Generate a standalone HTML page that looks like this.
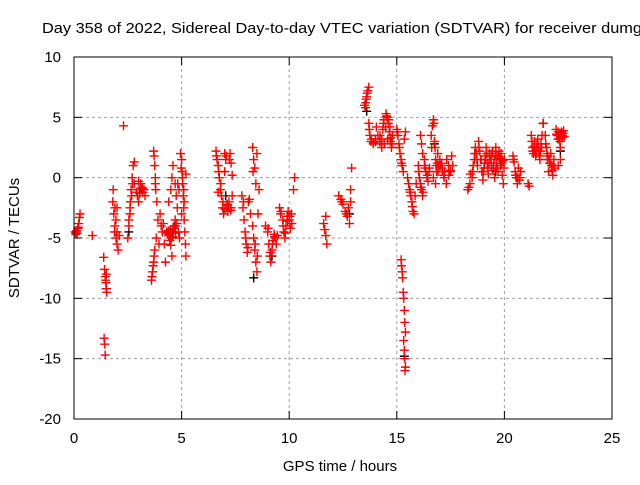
<!DOCTYPE html>
<html><head><meta charset="utf-8"><style>
body{margin:0;background:#fff;width:640px;height:480px;overflow:hidden}
svg{font-family:"Liberation Sans",sans-serif;font-size:14px}
</style></head><body>
<svg id="chart" width="640" height="480" xmlns="http://www.w3.org/2000/svg">
<text x="42" y="33" font-size="15" textLength="600" lengthAdjust="spacingAndGlyphs">Day 358 of 2022, Sidereal Day-to-day VTEC variation (SDTVAR) for receiver dumg</text>
<text transform="translate(19,238) rotate(-90)" text-anchor="middle" font-size="15">SDTVAR / TECUs</text>
<text x="340" y="471" text-anchor="middle" font-size="15">GPS time / hours</text>
<g id="grid"></g>
<g id="ticks"></g>
<g id="pts"></g>
<rect x="74" y="57" width="538" height="362" fill="none" stroke="#000" stroke-width="1"/>
</svg>
<script>
const xTicks=[0,5,10,15,20,25];
const yTicks=[10,5,0,-5,-10,-15,-20];
const times=[0.05,0.08,0.12,0.18,0.22,0.25,0.28,0.15,0.85,
1.38,1.42,1.45,1.48,1.5,1.52,1.4,1.43,1.45,1.5,
1.8,1.85,1.9,1.95,2.0,1.82,1.88,2.05,2.0,1.95,2.1,2.3,
2.5,2.55,2.6,2.62,2.65,2.7,2.75,2.8,2.55,2.68,2.8,
2.9,2.95,3.0,3.05,3.1,3.15,3.2,3.25,3.0,3.3,
3.6,3.62,3.65,3.7,3.72,3.75,3.7,3.72,3.75,3.78,3.8,3.85,3.82,3.9,3.95,
4.0,4.05,4.1,4.15,4.2,4.25,4.3,
4.35,4.4,4.45,4.5,4.55,4.6,4.65,4.7,4.4,4.5,4.55,4.6,4.7,4.75,4.8,4.85,4.9,
4.95,5.0,5.02,5.05,5.08,5.1,5.12,5.15,5.18,5.2,5.0,5.1,5.2,
6.6,6.65,6.7,6.75,6.8,6.85,6.9,6.95,7.0,7.05,7.1,7.15,7.2,6.7,7.0,
7.25,7.3,7.35,7.3,7.35,
7.8,7.85,7.9,7.95,8.0,8.05,8.1,8.15,8.2,
8.3,8.35,8.4,8.45,8.3,8.35,8.4,8.45,8.5,8.55,8.6,8.5,
8.9,9.0,9.05,9.1,9.15,9.2,9.25,9.3,9.35,9.4,9.45,
9.55,9.6,9.7,9.75,9.8,9.85,9.9,9.95,10.0,10.05,10.1,10.2,10.25,
11.6,11.65,11.7,11.75,11.7,
12.3,12.4,12.5,12.6,12.7,12.75,12.8,12.85,12.9,12.85,
13.5,13.55,13.6,13.65,13.7,13.55,
13.7,13.75,13.8,13.9,14.0,14.05,
14.2,14.3,14.35,14.4,14.5,14.55,14.6,14.65,14.7,14.75,14.8,14.3,
15.0,15.05,15.1,15.15,15.2,15.25,15.3,15.35,15.4,
15.2,15.22,15.25,15.27,15.3,15.32,15.35,15.37,15.4,15.32,15.35,15.37,15.4,15.38,
15.5,15.55,15.6,15.65,15.7,15.75,15.8,15.85,15.9,
16.0,16.05,16.1,16.15,16.2,16.1,16.15,16.2,16.3,16.35,16.4,16.45,16.5,
16.6,16.65,16.7,16.75,16.8,16.85,16.9,16.95,16.7,16.8,
17.0,17.1,17.2,17.3,17.4,17.5,17.55,17.6,
18.3,18.35,18.4,18.5,18.55,18.6,18.65,18.7,18.75,
18.8,18.85,18.9,18.95,19.0,19.05,19.1,19.15,19.2,19.25,
19.3,19.35,19.4,19.45,19.5,19.55,19.6,19.65,19.7,19.75,19.8,19.85,19.9,19.95,20.0,
20.4,20.45,20.5,20.55,20.6,20.65,20.7,20.75,
21.1,21.15,
21.25,21.3,21.35,21.4,21.45,21.5,21.55,21.6,21.65,21.7,21.75,21.8,
21.9,21.95,22.0,22.05,22.1,22.15,22.2,22.25,22.3,22.35,
22.4,22.45,22.5,22.55,22.6,22.65,22.7,22.75,22.5,22.6,
0.1,0.2,1.47,1.9,2.0,2.6,2.72,3.05,3.18,3.68,3.78,4.38,4.42,4.48,4.52,4.58,4.62,4.68,4.72,4.78,4.82,4.88,4.98,5.04,5.12,
6.62,6.72,6.82,6.92,7.02,7.08,7.12,7.18,7.22,7.28,7.88,7.98,8.08,8.32,8.42,8.52,9.02,9.12,9.22,9.32,9.62,9.72,9.82,9.92,10.02,10.12,
12.45,12.65,13.58,13.62,13.72,13.82,13.92,14.02,14.12,14.22,14.28,14.38,14.42,14.48,14.52,14.58,14.62,14.68,14.72,14.78,15.02,15.12,15.22,
15.62,15.72,16.02,16.12,16.22,16.28,16.32,16.42,16.52,16.62,16.72,16.78,16.82,16.88,16.92,17.02,17.08,17.12,17.18,17.22,17.32,17.42,17.48,
18.42,18.52,18.62,18.72,18.82,18.92,19.02,19.08,19.12,19.18,19.22,19.28,19.32,19.38,19.42,19.48,19.52,19.58,19.62,19.68,19.72,19.78,19.82,19.88,19.92,19.98,
20.42,20.52,20.62,20.72,21.28,21.32,21.38,21.42,21.48,21.52,21.58,21.62,21.68,21.72,21.92,21.98,22.02,22.08,22.12,22.18,22.22,22.28,22.42,22.48,22.52,22.58,22.62,22.68,22.72,22.78];
const values=[-4.5,-4.7,-4.4,-4.2,-3.8,-3.3,-3.0,-4.6,-4.8,
-6.6,-7.6,-8.2,-8.7,-9.2,-9.5,-13.3,-13.8,-14.7,-8.0,
-2,-3,-4,-5,-5.5,-1,-4.5,-6,-2.5,-3.5,-4.8,4.3,
-5,-4,-3,-2,-1,0,1,1.3,-3.5,-1.5,-0.5,
-1.2,-1.5,-2,-1,-0.5,-0.8,-1.2,-1,-0.3,-1.5,
-8.5,-8.2,-7.8,-7,-6.5,-6,2.2,1.8,1,0,-1,-2,-5,-3.5,-5.5,
-3,-4,-4.5,-3.8,-5.5,-7,-4.5,
-4.6,-4.8,-5.2,-5.6,-6.5,-4.2,-4,-3.5,-2,-1,0,1,-0.5,-1.5,-2.5,-4.5,-5,
2,1.5,0.5,-0.5,-1.5,-2.5,-3.5,-4.5,-5.5,-6.5,-3,-1,0.3,
2.2,1.5,1,0,-1,-1.5,-2.5,-3,2,1.5,-2.3,-2.8,-2,-1.2,0.5,
2,1.2,0.2,-2.5,-1.5,
-1.5,-2.5,-3.5,-4.5,-5.5,-6.2,-2,-1.8,-3,
2.5,1.5,0.8,-0.5,-4,-5,-6,-7,-7.8,-3,-1,2,
-4,-4.5,-5.5,-6.5,-7,-6,-5.2,-4.7,-5,-5.5,-4.8,
-2.5,-3,-3.5,-4.5,-5,-4,-3.2,-2.8,-3.5,-4.2,-3,-1,0,
-3.8,-4.3,-4.8,-5.5,-3.2,
-1.5,-1.8,-2.2,-2.8,-3.2,-2.5,-3.8,-1,0.8,-2,
6,6.2,6.7,7.2,7.5,5.8,
4.5,3.5,3,2.8,3.2,4.2,
3,3.2,4,4.8,5.3,5,4.5,3.8,3,2.5,3.5,2.5,
4,3.5,2.8,2,1.5,1,0.5,3.2,3.8,
-6.8,-7.3,-7.8,-8.3,-9.5,-10,-11,-12,-12.8,-13.5,-14.3,-15,-15.7,-16,
0,-0.5,-1,-1.5,-2,-2.8,-3,-1.5,-0.5,
1,0,-0.5,-1,-1.5,3.5,2.8,2,1,0.5,0,-0.3,0.5,
3.5,4.3,4.8,3,1.5,0.5,2,1,0,-0.5,
1.5,0.8,0,-0.5,1,0.5,1.8,1,
-1,-0.8,-0.5,0,1,1.5,2.5,2,1,
3,2.2,1.5,0.5,-0.2,0.8,1.8,2.5,1.2,0.3,
2,1.5,0.8,2.2,1,0,2.5,1.8,0.5,2.2,1.2,2,0.2,-0.5,1.5,
1.8,1.3,0.5,0,-0.5,0.8,-0.2,0.5,
-0.5,-0.7,
3.5,2.5,2,3,1.8,2.5,3.2,2.2,1.5,2.8,3.5,4.5,
3.5,2.5,1.5,0.5,1.2,2,1,0.2,1.5,0.8,
4,3.5,3.8,3.2,2.5,3.8,3.5,3.9,1,1.5,
-4.6,-4.1,-8.5,-2.5,-4.5,-2.5,-0.5,-1.3,-0.9,-7.3,-0.5,-4.4,-4.7,-4.3,-5,-4.9,-4.5,-4.2,-4.6,-3.8,-0.5,-1,0.8,0,-2,
1.8,0.5,-0.5,-2,-2.6,1.8,-2.2,-2.5,1.5,-2.7,-2,-5,-5.8,0.5,-5.5,-6.5,-4.2,-6.2,-5.5,-4.9,-2.8,-4,-4.6,-3.6,-3.2,-3.8,
-2,-3,6.5,7,4,3.2,2.9,3,3.5,3.5,2.8,4.5,2.8,4.2,5.1,3.2,4.8,4.2,3.3,2.8,3.8,2.5,1.2,
-1.2,-2.4,0.5,-0.8,-1.2,1.5,0.8,0.2,0.8,2.5,4.5,2.5,1,1.2,0.5,1,1.2,0.5,0.2,0.5,1.5,0.2,0.6,
0.3,0.5,2,1.5,2.5,1.5,0.5,1.2,1.5,2,0.8,1.2,1.8,1.5,2,0.6,1.5,1.8,1.2,0.8,1.8,1.6,1,1.2,1.4,0.8,
1.5,0.2,0,0,3,2.2,2.6,2.2,2,2.8,2.5,1.8,2.2,2.5,2.8,2,1.8,1.5,1.2,1,0.6,1,3.6,3.2,3.5,3,3.6,3.3,3.7,3.4];
const blackTimes=[1.5,2.55,3.1,4.7,7.05,8.35,9.2,12.8,13.6,15.35,16.75,19.6,21.8,22.6];
const blackValues=[-9.2,-4.5,-1,-4,-1.5,-8.3,-6.5,-3,5.5,-14.8,2.8,0.5,4.5,2.2];
const NS="http://www.w3.org/2000/svg";
const X0=74,X1=612,Y0=419,Y1=57;
function xs(t){return X0+(t-0)/(25-0)*(X1-X0);}
function ys(v){return Y0-(v-(-20))/(10-(-20))*(Y0-Y1);}
const grid=document.getElementById('grid'),ticks=document.getElementById('ticks'),pts=document.getElementById('pts');
function mk(tag,attrs,parent){const e=document.createElementNS(NS,tag);for(const k in attrs)e.setAttribute(k,attrs[k]);parent.appendChild(e);return e;}
xTicks.forEach(t=>{const x=xs(t);
 if(t>0&&t<25){const l=mk('line',{x1:x,x2:x,y1:Y1,y2:Y0,stroke:'#a0a0a0','stroke-dasharray':'3,3'},grid);
 
 }
 mk('line',{x1:x,x2:x,y1:Y0,y2:Y0-8,stroke:'#000'},ticks);
 mk('line',{x1:x,x2:x,y1:Y1,y2:Y1+8,stroke:'#000'},ticks);
 const tx=mk('text',{x:x,y:Y0+24,'text-anchor':'middle','font-size':'15'},ticks);tx.textContent=t;
 
 });
yTicks.forEach(v=>{const y=ys(v);
 if(v>-20&&v<10){const l=mk('line',{x1:X0,x2:X1,y1:y,y2:y,stroke:'#a0a0a0','stroke-dasharray':'3,3'},grid);
 
 }
 mk('line',{x1:X0,x2:X0+8,y1:y,y2:y,stroke:'#000'},ticks);
 mk('line',{x1:X1,x2:X1-8,y1:y,y2:y,stroke:'#000'},ticks);
 const tx=mk('text',{x:X0-13,y:y+5,'text-anchor':'end','font-size':'15'},ticks);tx.textContent=v;
 
 });
function plus(t,v,col){const x=xs(t),y=ys(v);
 const p=mk('path',{d:`M${x-4.5},${y}H${x+4.5}M${x},${y-4.5}V${y+4.5}`,stroke:col,'stroke-width':'1.4',fill:'none'},pts);
 
 }
blackTimes.forEach((t,i)=>plus(t,blackValues[i],'#000'));
times.forEach((t,i)=>plus(t,values[i],'#ff0000'));
</script>
</body></html>
